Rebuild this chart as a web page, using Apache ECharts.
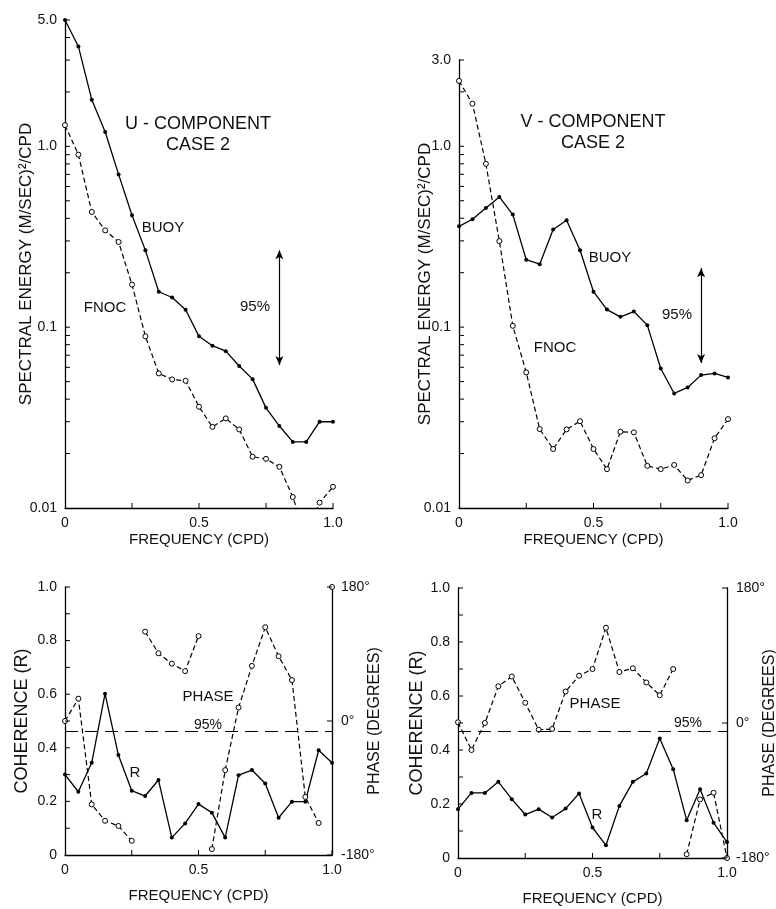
<!DOCTYPE html>
<html>
<head>
<meta charset="utf-8">
<script src="https://cdn.jsdelivr.net/npm/echarts@6/dist/echarts.min.js"></script>
<style>
html, body { margin: 0; padding: 0; background: #fff; }
#chart { width: 776px; height: 909px; }
</style>
</head>
<body>
<div id="chart"></div>
<script>
var freq = [0, 0.05, 0.1, 0.15, 0.2, 0.25, 0.3, 0.35, 0.4, 0.45, 0.5,
            0.55, 0.6, 0.65, 0.7, 0.75, 0.8, 0.85, 0.9, 0.95, 1.0];

// spectral energy, (m/sec)^2/cpd
var uBuoy = [5.0, 3.57, 1.81, 1.20, 0.70, 0.416, 0.266, 0.157, 0.146, 0.125, 0.089,
             0.079, 0.0737, 0.061, 0.0516, 0.0358, 0.0284, 0.0232, 0.0232, 0.030, 0.030];
var uFnoc = [1.31, 0.90, 0.434, 0.343, 0.296, 0.172, 0.089, 0.0555, 0.0514, 0.0505, 0.0363,
             0.0281, 0.0313, 0.0272, 0.0192, 0.0187, 0.0169, 0.0115, 0.007, 0.0107, 0.0131];
var vBuoy = [0.361, 0.395, 0.456, 0.525, 0.419, 0.236, 0.223, 0.347, 0.390, 0.266, 0.157,
             0.125, 0.114, 0.122, 0.1026, 0.0591, 0.0430, 0.0464, 0.0543, 0.0555, 0.0527];
var vFnoc = [2.30, 1.72, 0.80, 0.299, 0.1017, 0.0562, 0.0273, 0.0212, 0.0272, 0.0302, 0.0212,
             0.0164, 0.0264, 0.0262, 0.0171, 0.0164, 0.0173, 0.0142, 0.0152, 0.0243, 0.0310];

// coherence and phase (degrees)
var uCoh = [0.30, 0.236, 0.344, 0.602, 0.373, 0.240, 0.220, 0.280, 0.065, 0.118, 0.190,
            0.158, 0.065, 0.298, 0.317, 0.267, 0.139, 0.199, 0.199, 0.391, 0.344];
var uPhase = [0, 30, -112, -134, -141, -161, 120, 91, 77, 67, 114,
              -172, -66, 18, 74, 126, 87, 55, -102, -137, 180];
var vCoh = [0.181, 0.241, 0.241, 0.282, 0.218, 0.161, 0.181, 0.150, 0.183, 0.239, 0.113,
            0.047, 0.193, 0.282, 0.313, 0.443, 0.329, 0.140, 0.255, 0.131, 0.059];
var vPhase = [1, -36, 0, 49, 62, 27, -9, -8, 42, 63, 72,
              127, 68, 73, 54, 37, 72, -175, -102, -93, -180];
// indexes where the phase curve wraps round and the line is broken
var uPhaseBreaks = [6, 11, 20];
var vPhaseBreaks = [17];

// 95% levels
var uArrowFreq = 0.8, uArrow = [0.266, 0.0617];
var vArrowFreq = 0.9, vArrow = [0.212, 0.0633];
var uCoh95 = 0.46, vCoh95 = 0.474;

// tick positions
var logTicks = [0.02, 0.03, 0.04, 0.05, 0.06, 0.07, 0.08, 0.09,
                0.1, 0.2, 0.3, 0.4, 0.5, 0.6, 0.7, 0.8, 0.9,
                1, 2, 3, 4, 5];
var freqTicks = [0.25, 0.5, 0.75, 1];
var cohTicks = [0.1, 0.2, 0.3, 0.4, 0.5, 0.6, 0.7, 0.8, 0.9, 1];
var phaseTicks = [-180, 0, 180];

var FONT = 'Liberation Sans';

function pts(ys, a, b) {
  var out = [];
  for (var i = a; i < b; i++) out.push([freq[i], ys[i]]);
  return out;
}

function solid(name, xi, yi, data) {
  return {
    name: name, type: 'line', xAxisIndex: xi, yAxisIndex: yi, data: data,
    symbol: 'circle', symbolSize: 4,
    itemStyle: { color: '#000' },
    lineStyle: { color: '#000', width: 1.3 }
  };
}

function dashed(name, xi, yi, data) {
  return {
    name: name, type: 'line', xAxisIndex: xi, yAxisIndex: yi, data: data,
    symbol: 'circle', symbolSize: 5,
    itemStyle: { color: '#fff', borderColor: '#000', borderWidth: 1 },
    lineStyle: { color: '#000', width: 1.2, type: [5, 3] }
  };
}

function phaseSeries(name, xi, yi, ys, breaks) {
  var cuts = [0].concat(breaks, [ys.length]);
  var out = [];
  for (var i = 0; i < cuts.length - 1; i++) {
    out.push(dashed(name, xi, yi, pts(ys, cuts[i], cuts[i + 1])));
  }
  return out;
}

// inward tick marks: each tick is placed through the axes, then drawn 5px into the plot
function tickMarks(xi, yi, data, dx, dy) {
  return {
    type: 'custom', xAxisIndex: xi, yAxisIndex: yi, data: data,
    silent: true, clip: false, z: 5,
    renderItem: function (params, api) {
      var p = api.coord([api.value(0), api.value(1)]);
      return {
        type: 'line',
        shape: { x1: p[0], y1: p[1], x2: p[0] + dx, y2: p[1] + dy },
        style: { stroke: '#000', lineWidth: 1 }
      };
    }
  };
}

function onLeft(xv, vals) { return vals.map(function (v) { return [xv, v]; }); }
function onBottom(yv, vals) { return vals.map(function (v) { return [v, yv]; }); }

function arrowLine(f, range) {
  return {
    silent: true,
    symbol: ['arrow', 'arrow'], symbolSize: [6, 9],
    label: { show: false },
    lineStyle: { color: '#000', width: 1.2, type: 'solid' },
    data: [[{ coord: [f, range[0]] }, { coord: [f, range[1]] }]]
  };
}

function levelLine(v) {
  return {
    silent: true, symbol: 'none',
    label: { show: false },
    lineStyle: { color: '#000', width: 1.2, type: [13, 7] },
    data: [{ yAxis: v }]
  };
}

function fmtNum(v) {
  if (v === 0) return '0';
  if (v >= 1) return v.toFixed(1);
  return String(Number(v.toPrecision(1)));
}

var axisLine = { show: true, lineStyle: { color: '#000', width: 1.3 } };
var labelStyle = { color: '#111', fontFamily: FONT, fontSize: 14 };

function nameStyle(size) {
  return { color: '#111', fontFamily: FONT, fontSize: size };
}

function freqAxis(gi, gap) {
  return {
    type: 'value', gridIndex: gi, position: 'bottom', min: 0, max: 1, interval: 0.25,
    name: 'FREQUENCY (CPD)', nameLocation: 'middle', nameGap: gap, nameTextStyle: nameStyle(15),
    nameMoveOverlap: false,
    axisLine: axisLine, axisTick: { show: false },
    axisLabel: Object.assign({}, labelStyle, {
      margin: 8,
      formatter: function (v) { return (v === 0.25 || v === 0.75) ? '' : fmtNum(v); }
    }),
    splitLine: { show: false }
  };
}

function logAxis(gi, max, gap) {
  return {
    type: 'log', gridIndex: gi, position: 'left', min: 0.01, max: max, logBase: 10,
    name: 'SPECTRAL ENERGY (M/SEC)\u00b2/CPD', nameLocation: 'middle', nameGap: gap,
    nameTextStyle: nameStyle(17), nameMoveOverlap: false,
    axisLine: axisLine, axisTick: { show: false },
    axisLabel: Object.assign({}, labelStyle, {
      customValues: [0.01, 0.1, 1, max], margin: 8, formatter: fmtNum
    }),
    splitLine: { show: false }
  };
}

function cohAxis(gi, gap) {
  return {
    type: 'value', gridIndex: gi, position: 'left', min: 0, max: 1, interval: 0.1,
    name: 'COHERENCE (R)', nameLocation: 'middle', nameGap: gap, nameTextStyle: nameStyle(18),
    nameMoveOverlap: false,
    axisLine: axisLine, axisTick: { show: false },
    axisLabel: Object.assign({}, labelStyle, {
      margin: 8,
      formatter: function (v) {
        var k = Math.round(v * 10);
        return k % 2 === 0 ? fmtNum(k / 10) : '';
      }
    }),
    splitLine: { show: false }
  };
}

function phaseAxis(gi, gap) {
  return {
    type: 'value', gridIndex: gi, position: 'right', min: -180, max: 180, interval: 180,
    name: 'PHASE (DEGREES)', nameLocation: 'middle', nameGap: gap, nameRotate: 90,
    nameTextStyle: nameStyle(16), nameMoveOverlap: false,
    axisLine: axisLine, axisTick: { show: false },
    axisLabel: Object.assign({}, labelStyle, { margin: 9, formatter: function (v) { return v + '\u00b0'; } }),
    splitLine: { show: false }
  };
}

function txt(x, y, s, size) {
  return {
    type: 'text', x: x, y: y, silent: true,
    style: {
      text: s, fill: '#111', font: (size || 15) + 'px "' + FONT + '"',
      align: 'center', verticalAlign: 'middle', lineHeight: (size || 15) + 3
    }
  };
}

function grid(left, top, width, height) {
  return { left: left, top: top, width: width, height: height, containLabel: false, outerBoundsMode: 'none' };
}

var series = [];
var uB = solid('BUOY', 0, 0, pts(uBuoy, 0, 21));
uB.markLine = arrowLine(uArrowFreq, uArrow);
series.push(uB, dashed('FNOC', 0, 0, pts(uFnoc, 0, 21)));
var vB = solid('BUOY', 1, 1, pts(vBuoy, 0, 21));
vB.markLine = arrowLine(vArrowFreq, vArrow);
series.push(vB, dashed('FNOC', 1, 1, pts(vFnoc, 0, 21)));
var uR = solid('R', 2, 2, pts(uCoh, 0, 21));
uR.markLine = levelLine(uCoh95);
series.push(uR);
series = series.concat(phaseSeries('PHASE', 2, 3, uPhase, uPhaseBreaks));
var vR = solid('R', 3, 4, pts(vCoh, 0, 21));
vR.markLine = levelLine(vCoh95);
series.push(vR);
series = series.concat(phaseSeries('PHASE', 3, 5, vPhase, vPhaseBreaks));

// tick marks
series.push(
  tickMarks(0, 0, onLeft(0, logTicks.filter(function (t) { return t <= 5; })), 5, 0),
  tickMarks(0, 0, onBottom(0.01, freqTicks), 0, -5),
  tickMarks(1, 1, onLeft(0, logTicks.filter(function (t) { return t <= 3; })), 5, 0),
  tickMarks(1, 1, onBottom(0.01, freqTicks), 0, -5),
  tickMarks(2, 2, onLeft(0, cohTicks), 5, 0),
  tickMarks(2, 2, onBottom(0, freqTicks), 0, -5),
  tickMarks(2, 3, onLeft(1, phaseTicks), -5, 0),
  tickMarks(3, 4, onLeft(0, cohTicks), 5, 0),
  tickMarks(3, 4, onBottom(0, freqTicks), 0, -5),
  tickMarks(3, 5, onLeft(1, phaseTicks), -5, 0)
);

echarts.init(document.getElementById('chart')).setOption({
  animation: false,
  backgroundColor: '#fff',
  textStyle: { fontFamily: FONT },
  grid: [
    grid(65, 20, 268, 488),
    grid(459, 60, 269, 448),
    grid(65, 587, 267, 268),
    grid(458, 588, 269, 270)
  ],
  xAxis: [freqAxis(0, 24), freqAxis(1, 24), freqAxis(2, 33), freqAxis(3, 33)],
  yAxis: [
    logAxis(0, 5, 30), logAxis(1, 3, 25),
    cohAxis(2, 34), phaseAxis(2, 35),
    cohAxis(3, 32), phaseAxis(3, 35)
  ],
  graphic: [
    txt(198, 135, 'U - COMPONENT\nCASE 2', 18),
    txt(163, 228, 'BUOY'), txt(105, 308, 'FNOC'), txt(255, 307, '95%'),
    txt(593, 133, 'V - COMPONENT\nCASE 2', 18),
    txt(610, 258, 'BUOY'), txt(555, 348, 'FNOC'), txt(677, 315, '95%'),
    txt(208, 697, 'PHASE'), txt(208, 725, '95%', 14), txt(135, 773, 'R'),
    txt(595, 704, 'PHASE'), txt(688, 723, '95%', 14), txt(597, 815, 'R')
  ],
  series: series
});
</script>
</body>
</html>
